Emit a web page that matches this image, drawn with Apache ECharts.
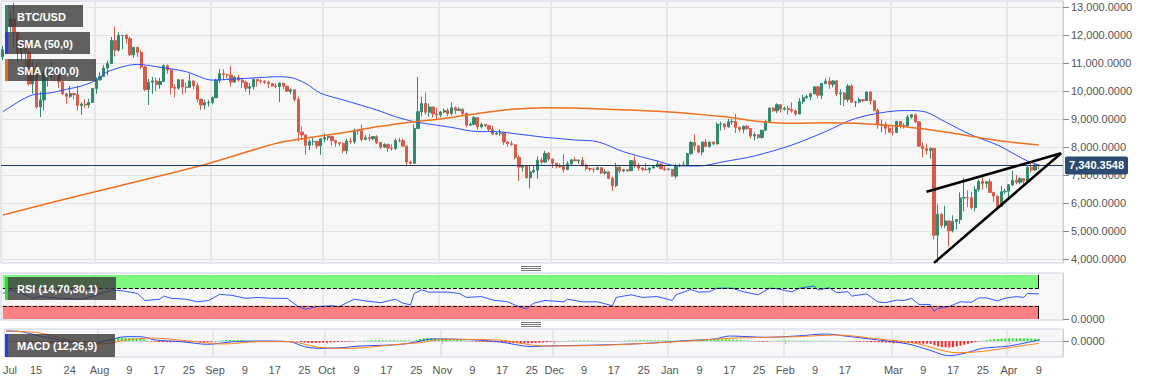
<!DOCTYPE html>
<html><head><meta charset="utf-8">
<script src="https://cdn.jsdelivr.net/npm/echarts@6/dist/echarts.min.js"></script>
<style>html,body{margin:0;padding:0;background:#fff}#c{width:1153px;height:383px}</style>
</head><body><div id="c"></div>
<script>
// ---------- DATA ----------
// daily candles [open, high, low, close]
const ohlcJul = [ // from Jul 7, 2019
[11230,11600,11100,11470],[11470,12340,11370,12300],[12300,12800,12110,12570],[12570,13150,11580,12100],
[12100,12110,11000,11350],[11350,11900,11080,11800],[11800,11830,10830,11390],[11390,11450,10200,10250],
[10250,11050,9900,10850],[10850,11000,9370,9430],[9430,9980,9070,9680],[9680,10750,9300,10650],
[10650,10760,10150,10530],[10530,11080,10400,10760],[10760,10830,10350,10590],[10590,10650,10100,10330],
[10330,10340,9850,9900],[9900,9930,9550,9810],[9810,10180,9750,9910],[9910,9920,9700,9870],
[9870,10200,9300,9480],[9480,9600,9150,9530],[9530,9700,9400,9500],[9500,9720,9400,9590],[9590,10100,9580,10090]];
const ohlcAug = [
[10090,10490,9900,10400],[10400,10660,10360,10520],[10520,10920,10500,10820],[10820,11090,10560,10980],
[10980,11930,10980,11800],[11800,12300,11240,11460],[11460,12100,11400,11980],[11980,12000,11500,11990],
[11990,12040,11700,11870],[11870,11940,11250,11290],[11290,11560,11190,11560],[11560,11580,11220,11380],
[11380,11450,10780,10860],[10860,10900,10000,10050],[10050,10430,9500,10310],[10310,10500,9900,10360],
[10360,10480,9990,10230],[10230,10470,10080,10340],[10340,10950,10330,10900],[10900,10950,10620,10750],
[10750,10770,9880,10130],[10130,10230,9780,10100],[10100,10430,10050,10400],[10400,10410,9880,10140],
[10140,10300,9920,10130],[10130,10620,10130,10360],[10360,10380,10060,10190],[10190,10290,9600,9710],
[9710,9720,9330,9500],[9500,9690,9340,9580],[9580,9680,9450,9590]];
const ohlcSep = [
[9590,9800,9520,9760],[9760,10440,9740,10380],[10380,10790,10280,10620],[10620,10780,10400,10580],
[10580,10620,10450,10570],[10570,10900,10150,10320],[10320,10540,10300,10480],[10480,10580,10330,10390],
[10390,10470,10100,10310],[10310,10380,9980,10100],[10100,10280,9870,10150],[10150,10450,10050,10410],
[10410,10430,10160,10360],[10360,10420,10260,10350],[10350,10380,10250,10310],[10310,10370,10100,10260],
[10260,10280,10160,10180],[10180,10280,10090,10160],[10160,10310,9610,10280],[10280,10280,10070,10170],
[10170,10180,9960,9990],[9990,10090,9890,10040],[10040,10050,9620,9700],[9700,9800,8200,8530],
[8530,8730,8250,8430],[8430,8450,7720,8060],[8060,8270,7880,8190],[8190,8320,8050,8200],
[8200,8220,7930,8040],[8040,8320,7720,8290]];
const ohlcOct = [
[8290,8490,8170,8330],[8330,8390,8230,8380],[8380,8390,8050,8230],[8230,8250,8010,8150],
[8150,8180,8030,8130],[8130,8160,7780,7870],[7870,8300,7760,8210],[8210,8340,8120,8190],
[8190,8660,8120,8590],[8590,8640,8430,8580],[8580,8800,8200,8270],[8270,8420,8260,8330],
[8330,8460,8200,8300],[8300,8390,8240,8370],[8370,8420,8100,8160],[8160,8170,7930,8000],
[8000,8130,7960,8090],[8090,8120,7830,7960],[7960,8100,7870,7950],[7950,8300,7890,8230],
[8230,8330,8160,8220],[8220,8300,8020,8030],[8030,8050,7300,7460],[7460,7520,7370,7420],
[7420,8800,7400,8660],[8660,10500,8640,9260],[9260,9800,9100,9550],[9550,9950,9150,9240],
[9240,9550,9080,9430],[9430,9430,9050,9180],[9180,9400,8970,9150]];
const ohlcNov = [
[9150,9290,9060,9250],[9250,9380,9210,9300],[9300,9380,9100,9200],[9200,9590,9120,9400],
[9400,9450,9180,9310],[9310,9420,9280,9350],[9350,9370,9140,9200],[9200,9230,8700,8780],
[8780,8880,8760,8810],[8810,9100,8770,9050],[9050,9070,8620,8720],[8720,8870,8660,8800],
[8800,8820,8710,8760],[8760,8780,8570,8630],[8630,8770,8420,8460],[8460,8530,8430,8490],
[8490,8630,8400,8500],[8500,8510,8070,8180],[8180,8200,8010,8120],[8120,8220,8040,8080],
[8080,8110,7560,7630],[7630,7710,6790,7280],[7280,7360,7120,7340],[7340,7350,6880,6900],
[6900,7360,6520,7110],[7110,7330,7060,7170],[7170,7660,6860,7530],[7530,7620,7380,7460],
[7460,7860,7440,7770],[7770,7820,7500,7570]];
const ohlcDec = [
[7570,7570,7250,7420],[7420,7430,7230,7310],[7310,7420,7250,7300],[7300,7750,7090,7200],
[7200,7490,7170,7400],[7400,7560,7360,7540],[7540,7640,7490,7510],[7510,7560,7400,7530],
[7530,7640,7300,7350],[7350,7400,7160,7230],[7230,7270,7130,7210],[7210,7270,7080,7200],
[7200,7300,7190,7260],[7260,7270,7030,7070],[7070,7190,7010,7110],[7110,7140,6850,6880],
[6880,6940,6430,6620],[6620,7440,6570,7280],[7280,7350,7050,7150],[7150,7210,7100,7190],
[7190,7190,7110,7150],[7150,7520,7140,7510],[7510,7690,7260,7320],[7320,7430,7150,7250],
[7250,7270,7130,7200],[7200,7430,7160,7190],[7190,7270,7060,7250],[7250,7360,7240,7300],
[7300,7520,7270,7390],[7390,7410,7220,7220],[7220,7320,7150,7190]];
const ohlcJan = [
[7190,7250,7170,7200],[7200,7210,6940,6960],[6960,7400,6870,7340],[7340,7400,7280,7350],
[7350,7490,7320,7360],[7360,7790,7360,7760],[7760,8210,7730,8160],[8160,8450,7880,8040],
[8040,8050,7770,7820],[7820,8180,7710,8180],[8180,8280,8000,8020],[8020,8190,7970,8180],
[8180,8200,8060,8110],[8110,8880,8100,8810],[8810,8900,8590,8820],[8820,8850,8610,8720],
[8720,9000,8690,8900],[8900,9000,8800,8910],[8910,9180,8500,8700],[8700,8740,8530,8630],
[8630,8760,8490,8740],[8740,8790,8600,8660],[8660,8670,8300,8390],[8390,8520,8240,8440],
[8440,8440,8290,8340],[8340,8600,8300,8600],[8600,8970,8580,8910],[8910,9400,8890,9390],
[9390,9420,9260,9290],[9290,9560,9210,9510],[9510,9520,9230,9350]];
const ohlcFeb = [
[9350,9440,9300,9380],[9380,9470,9150,9340],[9340,9600,9220,9290],[9290,9340,9110,9180],
[9180,9750,9170,9620],[9620,9860,9540,9760],[9760,9870,9720,9800],[9800,9940,9670,9900],
[9900,10160,9880,10150],[10150,10180,9740,9850],[9850,10280,9710,10270],[10270,10450,10240,10350],
[10350,10500,10080,10240],[10240,10380,10130,10360],[10360,10380,9820,9900],[9900,10060,9500,9930],
[9930,9960,9460,9700],[9700,10250,9600,10180],[10180,10250,9580,9600],[9600,9640,9430,9610],
[9610,9760,9580,9690],[9690,9700,9590,9660],[9660,9980,9660,9960],[9960,10000,9510,9650],
[9650,9660,9270,9310],[9310,9380,8650,8790],[8790,8980,8530,8800],[8800,8890,8460,8670],[8670,8780,8540,8530]];
const ohlcMar = [
[8530,8750,8410,8520],[8520,8940,8500,8910],[8910,8930,8660,8760],[8760,8850,8660,8750],
[8750,9150,8740,9070],[9070,9170,9010,9150],[9150,9190,8850,8900],[8900,8910,8000,8030],
[8030,8170,7630,7940],[7940,8120,7730,7880],[7880,7980,7580,7950],[7950,7960,4700,4850],
[4850,5950,3860,5600],[5600,5640,5100,5200],[5200,5900,5110,5360],[5360,5370,4450,5010],
[5010,5560,4950,5340],[5340,5420,5050,5410],[5410,6380,5250,6180],[6180,6890,5700,6200],
[6200,6450,5860,6190],[6190,6400,5770,5830],[5830,6600,5700,6480],[6480,6840,6400,6770],
[6770,6960,6480,6700],[6700,6790,6530,6760],[6760,6870,6360,6380],[6380,6390,6030,6250],
[6250,6260,5860,5880],[5880,6600,5860,6400],[6400,6520,6330,6420]];
const ohlcApr = [
[6420,6680,6170,6650],[6650,7150,6590,6810],[6810,7000,6670,6740],[6740,6920,6670,6870],
[6870,6890,6680,6780],[6780,7350,6770,7270],[7270,7470,7090,7180],[7180,7400,7150,7360],[7360,7370,7210,7340.3548]];

// MACD histogram per day (same days as candles)
const histJul = [-20,-30,-40,-60,-80,-100,-120,-130,-140,-150,-150,-150,-140,-130,-120,-110,-100,-90,-80,-70,-60,-50,-40,-20,-10];
const histAug = [20,60,100,140,170,190,200,200,190,170,150,120,90,-10,-30,-50,-60,-70,-70,-70,-60,-60,-50,-50,-40,-40,-50,-60,-60,-60,-50];
const histSep = [0,20,40,60,60,60,50,40,30,20,10,0,0,-5,-10,-10,-10,-10,-10,-5,-10,-10,-20,-60,-90,-110,-120,-120,-110,-100];
const histOct = [-90,-80,-70,-60,-50,-40,-30,-20,0,10,20,30,40,50,50,50,50,50,50,40,40,40,20,10,60,120,170,180,180,170,160];
const histNov = [150,140,120,100,80,60,40,-10,-20,-30,-40,-50,-60,-60,-70,-80,-90,-100,-110,-120,-130,-140,-140,-140,-130,-120,-100,-80,-70,-50];
const histDec = [-30,-10,0,10,20,30,30,30,30,30,20,20,10,10,0,-10,-10,0,10,20,30,30,40,40,40,40,40,40,40,30,30];
const histJan = [20,10,20,30,40,60,80,90,100,100,100,110,110,110,100,100,90,80,70,60,40,20,-10,-20,-30,-40,-30,-10,10,20,30];
const histFeb = [30,30,20,20,20,20,20,20,20,20,20,20,10,10,10,0,0,-10,-20,-30,-40,-40,-50,-60,-70,-80,-80,-90,-100];
const histMar = [-110,-110,-110,-100,-100,-110,-130,-150,-160,-160,-170,-260,-330,-370,-380,-380,-360,-330,-280,-220,-170,-120,-70,-20,20,60,90,110,130,140,150];
const histApr = [160,160,160,160,150,150,150,140,130];

const monthKeys = ['2019-07','2019-08','2019-09','2019-10','2019-11','2019-12','2020-01','2020-02','2020-03','2020-04'];
const monthFirstDay = [7,1,1,1,1,1,1,1,1,1];
const ohlcMonths = [ohlcJul,ohlcAug,ohlcSep,ohlcOct,ohlcNov,ohlcDec,ohlcJan,ohlcFeb,ohlcMar,ohlcApr];
const histMonths = [histJul,histAug,histSep,histOct,histNov,histDec,histJan,histFeb,histMar,histApr];
const padDates = ['2020-04-10','2020-04-11','2020-04-12','2020-04-13','2020-04-14','2020-04-15'];

const lastPrice = 7340.3548;

const sma50Pts = [
['2019-07-07',9260],['2019-07-12',9680],['2019-07-15',9860],['2019-07-20',9940],['2019-07-24',10060],['2019-07-28',10180],
['2019-08-01',10390],['2019-08-04',10690],['2019-08-12',10950],['2019-08-17',10870],['2019-08-25',10690],['2019-09-01',10390],
['2019-09-06',10420],['2019-09-15',10490],['2019-09-18',10510],['2019-09-22',10480],['2019-09-26',10270],['2019-09-30',9920],
['2019-10-06',9680],['2019-10-15',9320],['2019-10-20',9080],['2019-10-25',8905],['2019-10-29',8820],['2019-11-04',8700],
['2019-11-11',8550],['2019-11-16',8550],['2019-11-20',8490],['2019-11-29',8345],['2019-12-02',8310],['2019-12-07',8250],
['2019-12-13',8190],['2019-12-20',7830],['2019-12-29',7500],['2020-01-03',7330],['2020-01-09',7320],['2020-01-16',7480],
['2020-01-24',7680],['2020-02-03',8070],['2020-02-12',8550],['2020-02-20',9020],['2020-03-02',9290],['2020-03-06',9300],
['2020-03-10',9240],['2020-03-15',8900],['2020-03-22',8430],['2020-03-29',8070],['2020-04-03',7710],['2020-04-06',7500],['2020-04-09',7360]];
const sma200Pts = [
['2019-07-07',5570],['2019-07-30',6350],['2019-08-28',7300],['2019-09-18',8130],['2019-09-24',8275],['2019-10-06',8510],
['2019-10-15',8720],['2019-10-25',8905],['2019-11-02',9020],['2019-11-11',9200],['2019-11-20',9345],['2019-11-29',9405],
['2019-12-07',9390],['2019-12-31',9260],['2020-01-16',9080],['2020-01-24',8930],['2020-02-03',8845],['2020-02-12',8870],
['2020-02-20',8845],['2020-03-02',8750],['2020-03-10',8630],['2020-03-20',8430],['2020-03-29',8230],['2020-04-09',8070]];

const wedgeUpper = [['2020-03-10',6400],['2020-04-15',7775]];
const wedgeLower = [['2020-03-12',3860],['2020-04-15',7775]];

const rsiPts = [
['2019-07-07',58],['2019-07-09',66],['2019-07-11',62],['2019-07-15',47],['2019-07-17',51],['2019-07-21',48],['2019-07-28',45],
['2019-08-01',54],['2019-08-05',66],['2019-08-08',64],['2019-08-12',58],['2019-08-14',42],['2019-08-18',45],['2019-08-19',52],
['2019-08-21',47],['2019-08-25',45],['2019-08-28',39],['2019-08-31',42],['2019-09-03',56],['2019-09-06',54],['2019-09-10',47],
['2019-09-13',49],['2019-09-17',47],['2019-09-21',47],['2019-09-24',28],['2019-09-26',22],['2019-09-29',28],['2019-10-03',30],
['2019-10-05',28],['2019-10-07',37],['2019-10-09',45],['2019-10-12',41],['2019-10-16',37],['2019-10-20',45],['2019-10-22',36],
['2019-10-24',32],['2019-10-25',58],['2019-10-27',66],['2019-10-29',61],['2019-11-03',61],['2019-11-06',58],['2019-11-08',49],
['2019-11-12',51],['2019-11-15',43],['2019-11-19',39],['2019-11-22',28],['2019-11-24',23],['2019-11-26',36],['2019-11-29',42],
['2019-12-04',39],['2019-12-05',45],['2019-12-09',39],['2019-12-13',39],['2019-12-17',30],['2019-12-18',49],['2019-12-22',55],
['2019-12-25',49],['2019-12-29',51],['2020-01-02',42],['2020-01-03',55],['2020-01-07',67],['2020-01-09',61],['2020-01-12',62],
['2020-01-14',70],['2020-01-18',70],['2020-01-21',62],['2020-01-25',55],['2020-01-28',70],['2020-01-30',69],['2020-02-01',65],
['2020-02-03',62],['2020-02-05',70],['2020-02-09',75],['2020-02-10',66],['2020-02-13',71],['2020-02-15',60],['2020-02-18',62],
['2020-02-19',52],['2020-02-23',57],['2020-02-26',39],['2020-02-28',37],['2020-03-02',43],['2020-03-04',42],['2020-03-06',47],
['2020-03-08',33],['2020-03-11',33],['2020-03-12',17],['2020-03-13',24],['2020-03-16',28],['2020-03-19',39],['2020-03-22',38],
['2020-03-24',48],['2020-03-26',48],['2020-03-29',41],['2020-03-31',47],['2020-04-03',51],['2020-04-05',49],['2020-04-06',58],['2020-04-09',57]];

const macdPts = [
['2019-07-07',600],['2019-07-11',560],['2019-07-16',300],['2019-07-24',-40],['2019-07-29',-200],['2019-08-02',-40],['2019-08-08',260],
['2019-08-12',260],['2019-08-16',60],['2019-08-23',-40],['2019-08-30',-200],['2019-09-06',-40],['2019-09-13',0],['2019-09-21',-40],
['2019-09-25',-340],['2019-09-29',-440],['2019-10-05',-400],['2019-10-10',-300],['2019-10-20',-220],['2019-10-25',-60],['2019-10-29',120],
['2019-11-06',100],['2019-11-16',-40],['2019-11-25',-340],['2019-11-29',-300],['2019-12-13',-240],['2019-12-26',-140],['2020-01-04',0],
['2020-01-13',120],['2020-01-17',300],['2020-01-27',220],['2020-02-04',300],['2020-02-12',420],['2020-02-17',300],['2020-02-26',60],
['2020-03-05',-180],['2020-03-10',-500],['2020-03-16',-880],['2020-03-20',-740],['2020-03-25',-440],['2020-04-01',-300],['2020-04-09',60]];
const signalPts = [
['2019-07-07',600],['2019-07-16',480],['2019-07-24',60],['2019-08-02',-180],['2019-08-08',60],['2019-08-15',180],['2019-08-25',0],
['2019-09-03',-180],['2019-09-13',-40],['2019-09-21',-40],['2019-09-29',-380],['2019-10-07',-440],['2019-10-20',-200],['2019-10-26',-100],
['2019-11-01',100],['2019-11-16',60],['2019-11-28',-300],['2019-12-13',-260],['2019-12-31',-80],['2020-01-17',160],['2020-01-27',220],
['2020-02-04',260],['2020-02-15',360],['2020-02-26',120],['2020-03-07',-140],['2020-03-18',-700],['2020-03-25',-620],['2020-04-01',-400],['2020-04-09',-140]];

const xTickLabels = [
['2019-07-08','Jul'],['2019-07-15','15'],['2019-07-24','24'],
['2019-08-01','Aug'],['2019-08-09','9'],['2019-08-17','17'],['2019-08-25','25'],
['2019-09-01','Sep'],['2019-09-09','9'],['2019-09-17','17'],['2019-09-25','25'],
['2019-10-01','Oct'],['2019-10-09','9'],['2019-10-17','17'],['2019-10-25','25'],
['2019-11-01','Nov'],['2019-11-09','9'],['2019-11-17','17'],['2019-11-25','25'],
['2019-12-01','Dec'],['2019-12-09','9'],['2019-12-17','17'],['2019-12-25','25'],
['2020-01-01','Jan'],['2020-01-09','9'],['2020-01-17','17'],['2020-01-25','25'],
['2020-02-01','Feb'],['2020-02-09','9'],['2020-02-17','17'],
['2020-03-01','Mar'],['2020-03-09','9'],['2020-03-17','17'],['2020-03-25','25'],
['2020-04-01','Apr'],['2020-04-09','9']];
const priceTicks = [4000,5000,6000,7000,8000,9000,10000,11000,12000,13000];

// ---------- BUILD ----------
const UP = '#2f8a6e', DOWN = '#d85a48';
const FONT = '"Liberation Sans", Arial, Helvetica, sans-serif';
const dates = [], candles = [], hist = [];
monthKeys.forEach((k, i) => {
  ohlcMonths[i].forEach((d, j) => {
    const date = k + '-' + String(monthFirstDay[i] + j).padStart(2, '0');
    dates.push(date);
    candles.push([d[0], d[3], d[2], d[1]]);
    hist.push([date, histMonths[i][j]]);
  });
});
const categories = dates.concat(padDates);
const firstDate = dates[0], lastDate = dates[dates.length - 1];
const labelMap = new Map(xTickLabels);
const isMonthStart = (i, v) => typeof v === 'string' && v.slice(8) === '01';
const fmt4 = v => Number(v).toLocaleString('en-US', {minimumFractionDigits: 4, maximumFractionDigits: 4});

const gridCommon = {left: 1, width: 1062, show: true, backgroundColor: '#f7f7f7', borderColor: '#ccd2e1', borderWidth: 1};
const vSplit = {show: true, interval: isMonthStart, lineStyle: {color: '#e2e2e2', width: 1.5}};
function xAx(gi, showLabels) {
  return {
    type: 'category', gridIndex: gi, data: categories, boundaryGap: true,
    axisLine: {show: showLabels, lineStyle: {color: '#ccd2e1'}},
    axisTick: {show: showLabels, interval: isMonthStart, alignWithLabel: true, length: 3, lineStyle: {color: '#bbb'}},
    axisLabel: {show: showLabels, interval: (i, v) => labelMap.has(v), formatter: v => labelMap.get(v) || '',
      color: '#555', fontSize: 11, fontFamily: FONT, margin: 7},
    splitLine: vSplit
  };
}
const yLabel = {color: '#555', fontSize: 11, fontFamily: FONT, margin: 8, formatter: fmt4};

const legends = [
  {text: 'BTC/USD', color: UP, x: 5, y: 5, w: 78, h: 22},
  {text: 'SMA (50,0)', color: '#1f3cff', x: 5, y: 32, w: 85, h: 22},
  {text: 'SMA (200,0)', color: '#ee6a12', x: 5, y: 59, w: 91, h: 22},
  {text: 'RSI (14,70,30,1)', color: '#22e022', x: 5, y: 277, w: 111, h: 23},
  {text: 'MACD (12,26,9)', color: '#1f3cff', x: 5, y: 334, w: 110, h: 23}
];
const graphics = [];
legends.forEach(l => {
  graphics.push({type: 'rect', z: 100, shape: {x: l.x, y: l.y, width: l.w, height: l.h}, style: {fill: 'rgba(58,58,58,0.8)'}});
  graphics.push({type: 'rect', z: 101, shape: {x: l.x, y: l.y, width: 3, height: l.h}, style: {fill: l.color}});
  graphics.push({type: 'text', z: 102, x: l.x + 12, y: l.y + l.h / 2 + 0.5,
    style: {text: l.text, fill: '#fff', font: 'bold 11px ' + FONT, verticalAlign: 'middle', textAlign: 'left'}});
});
[266.5, 268.5, 270.5, 322.5, 324.5, 326.5].forEach(y => {
  graphics.push({type: 'line', z: 100, shape: {x1: 521, y1: y, x2: 541, y2: y}, style: {stroke: '#777', lineWidth: 1}});
});

const chart = echarts.init(document.getElementById('c'), null, {renderer: 'svg'});
chart.setOption({
  animation: false,
  backgroundColor: '#fff',
  textStyle: {fontFamily: FONT},
  grid: [
    Object.assign({top: 1, height: 262}, gridCommon),
    Object.assign({top: 273, height: 47}, gridCommon),
    Object.assign({top: 329, height: 28}, gridCommon)
  ],
  xAxis: [xAx(0, false), xAx(1, false), xAx(2, true)],
  yAxis: [
    {type: 'value', gridIndex: 0, position: 'right', min: 3857, max: 13214,
     axisLine: {show: true, lineStyle: {color: '#ccd2e1'}},
     axisTick: {show: true, length: 6, customValues: priceTicks, lineStyle: {color: '#888'}},
     axisLabel: Object.assign({customValues: priceTicks}, yLabel),
     splitLine: {show: true, lineStyle: {color: '#e2e2e2'}}},
    {type: 'value', gridIndex: 1, position: 'right', min: -2.3, max: 104.5,
     axisLine: {show: true, lineStyle: {color: '#ccd2e1'}},
     axisTick: {show: true, length: 6, customValues: [0], lineStyle: {color: '#888'}},
     axisLabel: Object.assign({customValues: [0]}, yLabel),
     splitLine: {show: false}},
    {type: 'value', gridIndex: 2, position: 'right', min: -960, max: 720,
     axisLine: {show: true, lineStyle: {color: '#ccd2e1'}},
     axisTick: {show: true, length: 6, customValues: [0], lineStyle: {color: '#888'}},
     axisLabel: Object.assign({customValues: [0]}, yLabel),
     splitLine: {show: true, lineStyle: {color: '#d9d9d9'}}}
  ],
  graphic: graphics,
  series: [
    {type: 'candlestick', name: 'BTC/USD', xAxisIndex: 0, yAxisIndex: 0, data: candles, barWidth: '72%',
     itemStyle: {color: UP, color0: DOWN, borderColor: UP, borderColor0: DOWN, borderWidth: 1},
     markLine: {silent: true, symbol: ['none', 'none'], animation: false,
       data: [{yAxis: lastPrice}],
       lineStyle: {color: '#1d3a5e', width: 1, type: 'solid'},
       label: {show: true, position: 'end', distance: 2, formatter: () => fmt4(lastPrice),
         backgroundColor: '#2b4b70', color: '#fff', fontWeight: 'bold', fontSize: 11, fontFamily: FONT,
         padding: [4, 4, 3, 4], borderRadius: 2}}},
    {type: 'line', name: 'SMA (50,0)', xAxisIndex: 0, yAxisIndex: 0, data: sma50Pts, showSymbol: false, smooth: 0.3,
     lineStyle: {color: '#2c4cff', width: 1}, z: 3},
    {type: 'line', name: 'SMA (200,0)', xAxisIndex: 0, yAxisIndex: 0, data: sma200Pts, showSymbol: false, smooth: 0.3,
     lineStyle: {color: '#f0701e', width: 1.5}, z: 3},
    {type: 'line', xAxisIndex: 0, yAxisIndex: 0, data: wedgeUpper, showSymbol: false, lineStyle: {color: '#000', width: 2.5}, z: 6},
    {type: 'line', xAxisIndex: 0, yAxisIndex: 0, data: wedgeLower, showSymbol: false, lineStyle: {color: '#000', width: 2.5}, z: 6},
    {type: 'line', name: 'RSI', xAxisIndex: 1, yAxisIndex: 1, data: rsiPts, showSymbol: false,
     lineStyle: {color: '#3556ff', width: 1}, z: 4,
     markArea: {silent: true, data: [
       [{xAxis: firstDate, yAxis: 70, itemStyle: {color: '#7cf97c', opacity: 1}}, {xAxis: lastDate, yAxis: 100}],
       [{xAxis: firstDate, yAxis: 0, itemStyle: {color: '#ff8080', opacity: 1}}, {xAxis: lastDate, yAxis: 30}]]},
     markLine: {silent: true, symbol: ['none', 'none'], label: {show: false}, data: [
       [{coord: [firstDate, 70], lineStyle: {type: 'dashed'}}, {coord: [lastDate, 70]}],
       [{coord: [firstDate, 30], lineStyle: {type: 'dashed'}}, {coord: [lastDate, 30]}],
       [{coord: [lastDate, 70], lineStyle: {type: 'solid'}}, {coord: [lastDate, 100]}],
       [{coord: [lastDate, 0], lineStyle: {type: 'solid'}}, {coord: [lastDate, 30]}]],
       lineStyle: {color: '#000', width: 1}}},
    {type: 'bar', name: 'Histogram', xAxisIndex: 2, yAxisIndex: 2, data: hist, barWidth: '55%',
     itemStyle: {color: p => (p.value[1] >= 0 ? '#22ee22' : '#ff2a2a')}},
    {type: 'line', name: 'MACD', xAxisIndex: 2, yAxisIndex: 2, data: macdPts, showSymbol: false, smooth: 0.3,
     lineStyle: {color: '#2c4cff', width: 1}, z: 4},
    {type: 'line', name: 'Signal', xAxisIndex: 2, yAxisIndex: 2, data: signalPts, showSymbol: false, smooth: 0.3,
     lineStyle: {color: '#ff7f1a', width: 1}, z: 4}
  ]
});
</script></body></html>
